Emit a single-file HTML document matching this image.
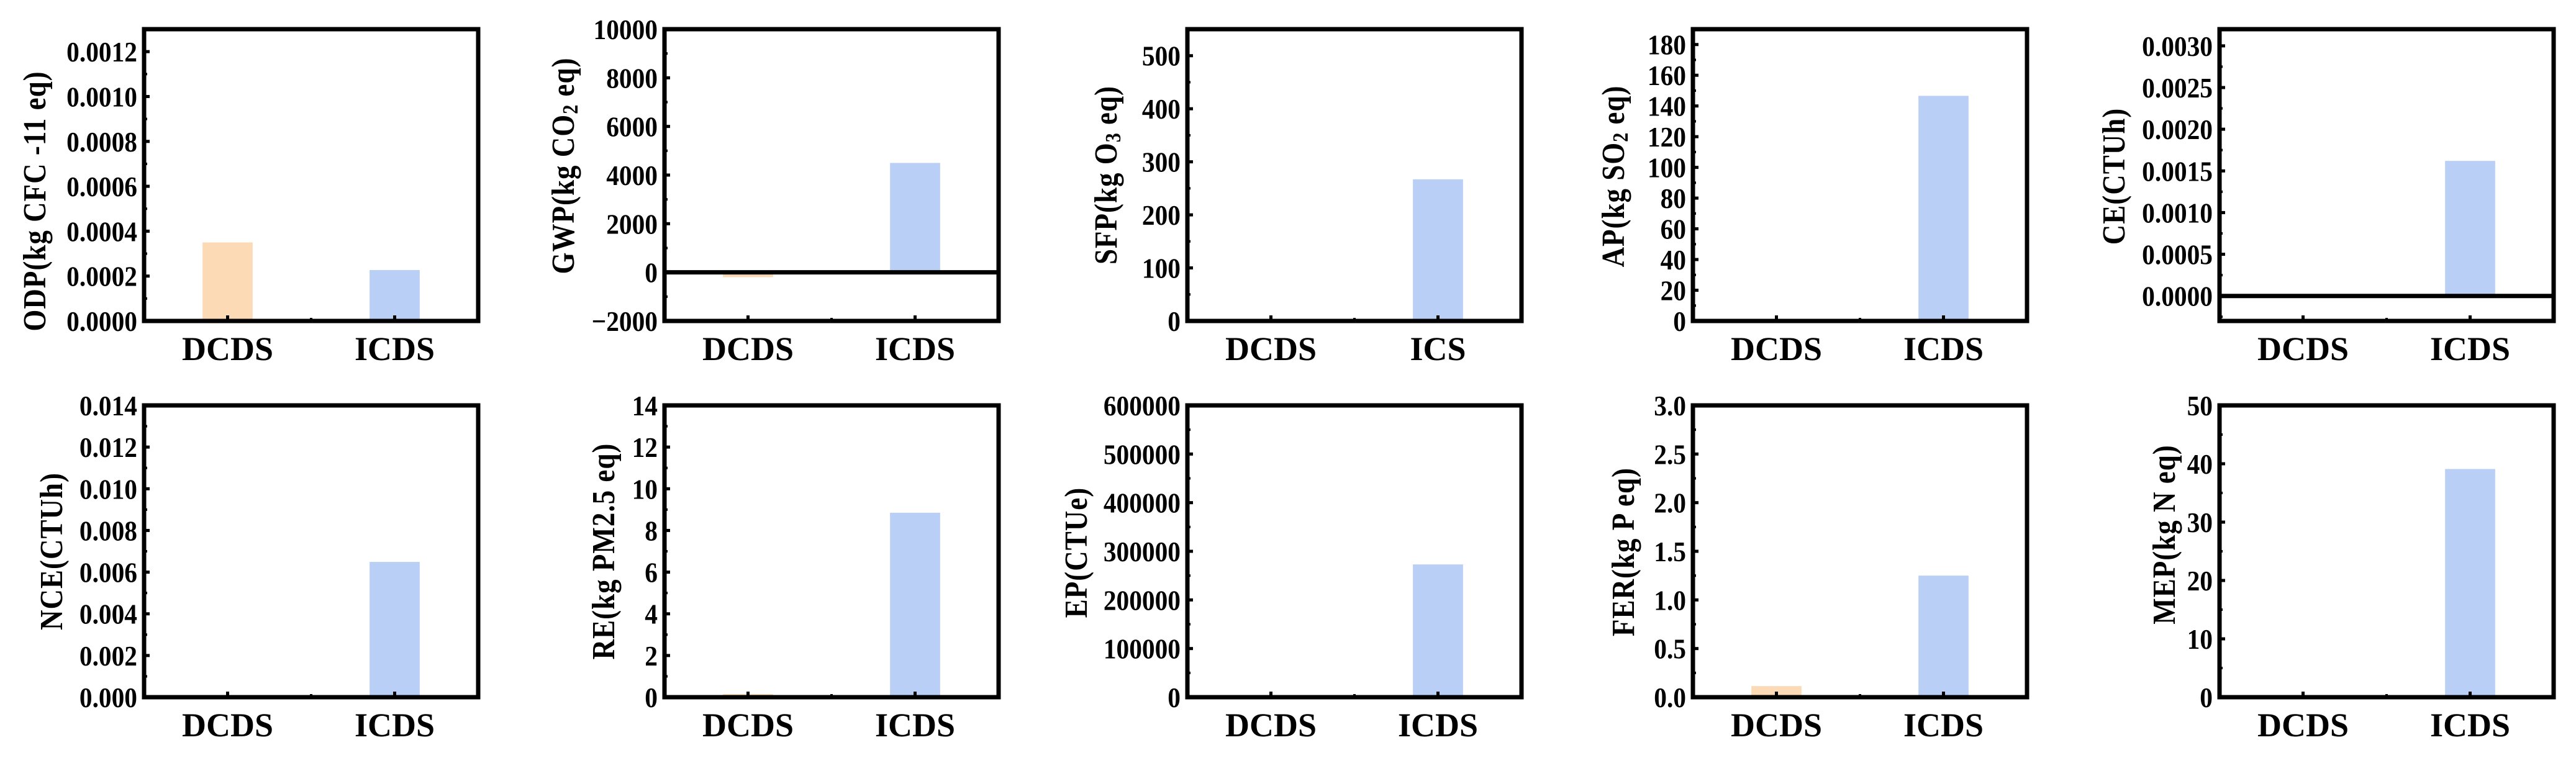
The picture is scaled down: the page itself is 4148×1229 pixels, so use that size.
<!DOCTYPE html>
<html><head><meta charset="utf-8"><style>
html,body{margin:0;padding:0;background:#fff;}
svg{display:block;}
text{font-family:"Liberation Serif","Times New Roman",serif;font-weight:bold;fill:#000;}
</style></head><body>
<svg id="chart" width="4148" height="1229" viewBox="0 0 4148 1229" xmlns="http://www.w3.org/2000/svg"></svg>
<script>
const categories = ['DCDS', 'ICDS'];
const categoryLabelSets = [
  ['DCDS','ICDS'],['DCDS','ICDS'],['DCDS','ICS'],['DCDS','ICDS'],['DCDS','ICDS'],
  ['DCDS','ICDS'],['DCDS','ICDS'],['DCDS','ICDS'],['DCDS','ICDS'],['DCDS','ICDS']
];
const titleMain = ['ODP(kg CFC -11 eq)','GWP(kg CO','SFP(kg O','AP(kg SO','CE(CTUh)','NCE(CTUh)','RE(kg PM2.5 eq)','EP(CTUe)','FER(kg P eq)','MEP(kg N eq)'];
const titleSub = ['','2','3','2','','','','','',''];
const titleRest = ['',' eq)',' eq)',' eq)','','','','','',''];
const dcdsValues = [0.00035, -200, 3, 0.3, 0, 0, 0.15, 1000, 0.114, 0.1];
const icdsValues = [0.000227, 4500, 267, 146.6, 0.00162, 0.00649, 8.85, 273000, 1.25, 39.1];
const yMinValues = [0, -2000, 0, 0, -0.0003, 0, 0, 0, 0, 0];
const yMaxValues = [0.0013, 10000, 550, 190, 0.0032, 0.014, 14, 600000, 3, 50];
const tickLabelSets = [
  ['0.0000','0.0002','0.0004','0.0006','0.0008','0.0010','0.0012'],
  ['\u22122000','0','2000','4000','6000','8000','10000'],
  ['0','100','200','300','400','500'],
  ['0','20','40','60','80','100','120','140','160','180'],
  ['0.0000','0.0005','0.0010','0.0015','0.0020','0.0025','0.0030'],
  ['0.000','0.002','0.004','0.006','0.008','0.010','0.012','0.014'],
  ['0','2','4','6','8','10','12','14'],
  ['0','100000','200000','300000','400000','500000','600000'],
  ['0.0','0.5','1.0','1.5','2.0','2.5','3.0'],
  ['0','10','20','30','40','50']
];
const zeroLine = [false,true,false,false,true,false,false,false,false,false];

// layout (not data)
const lefts = [232,1070,1912,2726,3574];
const plotW = 538;
const rowTop = [47,653], rowBot = [517,1123];
const titleX = [56,907,1781,2598,3404,83,972,1733,2614,3485];
const titleY = [324,267,282,284,284,888,888,890,889,861];
const orange = '#FCDAB6', blue = '#B9CFF6';

const svg = document.getElementById('chart');
const NS = 'http://www.w3.org/2000/svg';
function mk(tag, attrs, parent){
  const e = document.createElementNS(NS, tag);
  for (const k in attrs) e.setAttribute(k, attrs[k]);
  parent.appendChild(e);
  return e;
}

for (let p = 0; p < 10; p++) {
  const row = p < 5 ? 0 : 1;
  const L = lefts[p % 5], R = L + plotW, T = rowTop[row], B = rowBot[row];
  const yMin = yMinValues[p], yMax = yMaxValues[p];
  const yScale = v => B - (v - yMin) / (yMax - yMin) * (B - T);
  const xScale = c => L + (c + 0.5) / 2 * plotW;
  const unit = plotW / 2;

  const g = mk('g', {}, svg);
  
  

  const vals = [dcdsValues[p], icdsValues[p]];
  vals.forEach((v, i) => {
    const y0 = yScale(0), y1 = yScale(v);
    const r = mk('rect', {x: xScale(i) - 0.15 * unit, y: Math.min(y0, y1), width: 0.3 * unit, height: Math.abs(y1 - y0), fill: i === 0 ? orange : blue}, g);
    
    
  });

  const labels = tickLabelSets[p];
  const tickVals = labels.map(s => parseFloat(s.replace('\u2212', '-')));
  tickVals.forEach((v, i) => {
    const y = yScale(v);
    const tk = mk('line', {x1: L, x2: L + 9, y1: y, y2: y, stroke: '#000', 'stroke-width': 5}, g);
    
    
    const t = mk('text', {transform: 'translate(' + (L - 11) + ',' + (y + 16) + ') scale(0.9,1)', 'font-size': 46, 'text-anchor': 'end'}, g);
    t.textContent = labels[i];
    
    
  });
  const step = tickVals[1] - tickVals[0];
  for (let v = tickVals[0] - step / 2; v <= yMax; v += step) {
    if (v < yMin) continue;
    const y = yScale(v);
    const mt = mk('line', {x1: L, x2: L + 5, y1: y, y2: y, stroke: '#000', 'stroke-width': 4}, g);
    
    
  }

  [0, 1].forEach(i => {
    const x = xScale(i);
    const xt = mk('line', {x1: x, x2: x, y1: B, y2: B - 9, stroke: '#000', 'stroke-width': 5}, g);
    
    
    const ct = mk('text', {x: x, y: B + 63, 'font-size': 54, 'text-anchor': 'middle'}, g);
    ct.textContent = categoryLabelSets[p][i];
    
    
  });
  const mx = mk('line', {x1: xScale(0.5), x2: xScale(0.5), y1: B, y2: B - 5, stroke: '#000', 'stroke-width': 4}, g);
  
  

  if (zeroLine[p]) {
    const z = mk('line', {x1: L, x2: R, y1: yScale(0), y2: yScale(0), stroke: '#000', 'stroke-width': 7}, g);
    
    
  }

  const fr = mk('rect', {x: L, y: T, width: plotW, height: B - T, fill: 'none', stroke: '#000', 'stroke-width': 7}, g);
  
  

  const tt = mk('text', {transform: 'translate(' + titleX[p] + ',' + titleY[p] + ') rotate(-90) scale(1,1.15)', 'font-size': 45, 'text-anchor': 'middle', 'dominant-baseline': 'central', 'letter-spacing': 1}, g);
  
  
  const s1 = mk('tspan', {}, tt); s1.textContent = titleMain[p];
  if (titleSub[p]) {
    const s2 = mk('tspan', {'font-size': 30, dy: 10}, tt); s2.textContent = titleSub[p];
    const s3 = mk('tspan', {dy: -10}, tt); s3.textContent = titleRest[p];
  }
}
</script>
</body></html>
